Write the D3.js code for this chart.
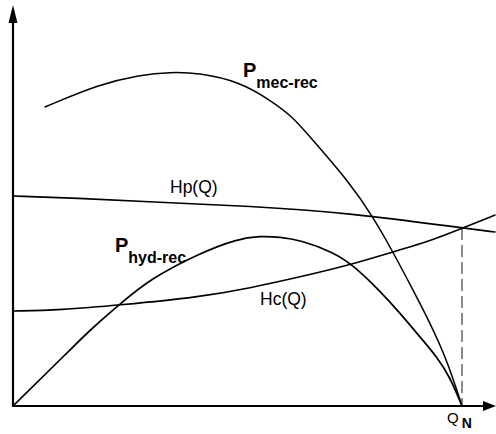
<!DOCTYPE html>
<html>
<head>
<meta charset="utf-8">
<script src="https://cdn.jsdelivr.net/npm/d3@7"></script>
<style>
  html, body { margin: 0; padding: 0; background: #fff; }
  svg { display: block; font-family: "Liberation Sans", Arial, sans-serif; }
  .curve { fill: none; stroke: #000; stroke-linejoin: round; stroke-linecap: round; }
</style>
</head>
<body>
<svg id="chart" width="496" height="434"></svg>
<script>
// Pump curves vs. flow Q (arbitrary units).
const Q_N = 449;

const pmecQ = [32, 87, 127, 157, 187, 227, 257, 280, 297, 337, 360, 380, 400, 417, 434, 449];
const pmecV = [299, 322, 331, 334, 333, 324, 306, 289, 269, 223, 189, 154, 116, 83, 46, 0];

const phydQ = [0, 57, 77, 107, 137, 187, 224, 247, 267, 287, 320, 340, 367, 387, 407, 424, 437, 449];
const phydV = [0, 56, 76, 102, 127, 153, 167, 170, 169, 166, 154, 141, 115, 93, 69, 49, 29, 0];

const hpQ = [0, 64, 137, 237, 337, 450, 482];
const hpV = [210, 208, 204, 200, 193, 178, 174];

const hcQ = [0, 47, 107, 187, 237, 287, 337, 380, 420, 450, 482];
const hcV = [95, 96, 101, 109, 118, 129, 141, 154, 166, 178, 191];

const width = 496, height = 434;
const svg = d3.select("#chart");

const x = d3.scaleLinear().domain([0, 483]).range([13, 496]);
const y = d3.scaleLinear().domain([0, 400]).range([406, 6]);

const line = d3.line().x((d) => x(d[0])).y((d) => y(d[1])).curve(d3.curveBasis);
const zip = (a, b) => a.map((v, i) => [v, b[i]]);

// ---------- axes with arrowheads ----------
svg.append("line").attr("x1", x(0)).attr("x2", x(0))
  .attr("y1", y(0) + 1).attr("y2", y(384))
  .attr("stroke", "#000").attr("stroke-width", 2.2);
svg.append("line").attr("x1", x(0) - 1).attr("x2", x(472))
  .attr("y1", y(0)).attr("y2", y(0))
  .attr("stroke", "#000").attr("stroke-width", 2.2);
svg.append("path")
  .attr("d", `M${x(0)},${y(401)} L${x(0) - 4.5},${y(383)} L${x(0) + 4.5},${y(383)} Z`)
  .attr("fill", "#000");
svg.append("path")
  .attr("d", `M${x(483)},${y(0)} L${x(470)},${y(0) - 5} L${x(470)},${y(0) + 5} Z`)
  .attr("fill", "#000");

// ---------- dashed operating-point line ----------
svg.append("line")
  .attr("x1", x(Q_N)).attr("x2", x(Q_N))
  .attr("y1", y(178)).attr("y2", y(0))
  .attr("stroke", "#666").attr("stroke-width", 1.5)
  .attr("stroke-dasharray", "12,5");

// ---------- curves ----------
svg.append("path").attr("class", "curve").attr("stroke-width", 1.6)
  .attr("d", line(zip(hpQ, hpV)));
svg.append("path").attr("class", "curve").attr("stroke-width", 1.6)
  .attr("d", line(zip(hcQ, hcV)));
svg.append("path").attr("class", "curve").attr("stroke-width", 1.7)
  .attr("d", line(zip(phydQ, phydV)));
svg.append("path").attr("class", "curve").attr("stroke-width", 1.5)
  .attr("d", line(zip(pmecQ, pmecV)));

// ---------- labels ----------
function subLabel(qx, hy, main, sub) {
  const t = svg.append("text").attr("x", x(qx)).attr("y", y(hy))
    .style("font-weight", "bold").style("font-size", "20px");
  t.append("tspan").text(main);
  t.append("tspan").attr("dy", 11).style("font-size", "16px").text(sub);
}
subLabel(230, 329, "P", "mec-rec");
subLabel(102, 154, "P", "hyd-rec");

svg.append("text").attr("x", x(157)).attr("y", y(213))
  .style("font-size", "17.5px").text("Hp(Q)");
svg.append("text").attr("x", x(247)).attr("y", y(101))
  .style("font-size", "17.5px").text("Hc(Q)");

const qn = svg.append("text").attr("x", x(434)).attr("y", 423).style("font-size", "15px");
qn.append("tspan").text("Q");
qn.append("tspan").attr("dx", 3).attr("dy", 5).style("font-weight", "bold").style("font-size", "14px").text("N");
</script>
</body>
</html>
